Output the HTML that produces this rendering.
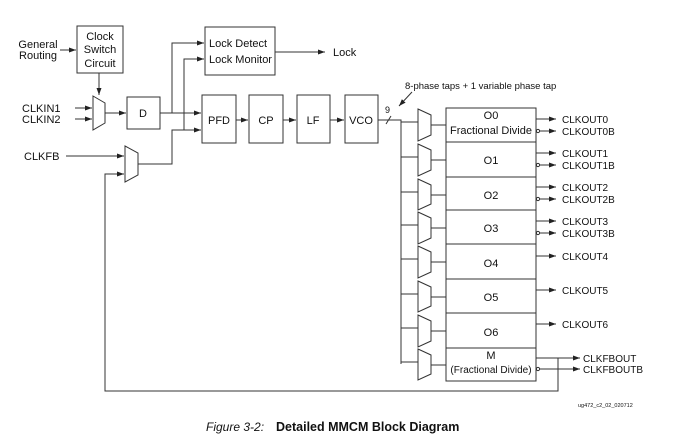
<!DOCTYPE html>
<html><head><meta charset="utf-8"><style>
html,body{margin:0;padding:0;background:#fff;}
svg{display:block;font-family:"Liberation Sans",Arial,sans-serif;}
</style></head><body>
<svg width="673" height="446" viewBox="0 0 673 446" xmlns="http://www.w3.org/2000/svg">
<defs><marker id="a" markerWidth="8" markerHeight="6" refX="7" refY="3" orient="auto" markerUnits="userSpaceOnUse"><path d="M0,0.5 L7,3 L0,5.5z" fill="#222"/></marker></defs>
<g fill="none" stroke="#333" stroke-width="1">
<rect x="77" y="26" width="46" height="47"/>
<rect x="205" y="27" width="70" height="48"/>
<rect x="127" y="97" width="33" height="32"/>
<rect x="202" y="95" width="34" height="48"/>
<rect x="249" y="95" width="34" height="48"/>
<rect x="297" y="95" width="33" height="48"/>
<rect x="345" y="95" width="33" height="48"/>
<rect x="446" y="108" width="90" height="273"/>
<path d="M446,142H536M446,177H536M446,210H536M446,244H536M446,279H536M446,313H536M446,348H536"/>
<polygon points="93,96 105,103 105,123 93,130"/>
<polygon points="125,146 138,153 138,175 125,182"/>
<path d="M60,50H76" marker-end="url(#a)"/>
<path d="M99,73V95" marker-end="url(#a)"/>
<path d="M75,108H92" marker-end="url(#a)"/>
<path d="M75,119H92" marker-end="url(#a)"/>
<path d="M105,113H126" marker-end="url(#a)"/>
<path d="M160,113H201" marker-end="url(#a)"/>
<path d="M172,113V43H204" marker-end="url(#a)"/>
<path d="M138,164H172V130H201" marker-end="url(#a)"/>
<path d="M184,130V59H204" marker-end="url(#a)"/>
<path d="M275,52H325" marker-end="url(#a)"/>
<path d="M66,156H124" marker-end="url(#a)"/>
<path d="M236,120H248" marker-end="url(#a)"/>
<path d="M283,120H296" marker-end="url(#a)"/>
<path d="M330,120H344" marker-end="url(#a)"/>
<path d="M378,120H401V364"/>
<path d="M386,124L391,116"/>
<path d="M412,92L399,106" marker-end="url(#a)"/>
<polygon points="418,109 431,115 431,135 418,141"/>
<polygon points="418,144 431,150 431,170 418,176"/>
<polygon points="418,179 431,185 431,204 418,210"/>
<polygon points="418,212 431,218 431,238 418,244"/>
<polygon points="418,246 431,252 431,272 418,278"/>
<polygon points="418,281 431,287 431,306 418,312"/>
<polygon points="418,315 431,321 431,341 418,347"/>
<polygon points="418,349 431,355 431,374 418,380"/>
<path d="M401,122H418M431,125H446M401,157H418M431,160H446M401,192H418M431,195H446M401,225H418M431,228H446M401,259H418M431,262H446M401,294H418M431,297H446M401,328H418M431,331H446M401,362H418M431,365H446"/>
<path d="M536,119H556" marker-end="url(#a)"/><path d="M540,131H556" marker-end="url(#a)"/>
<path d="M536,153H556" marker-end="url(#a)"/><path d="M540,165H556" marker-end="url(#a)"/>
<path d="M536,187H556" marker-end="url(#a)"/><path d="M540,199H556" marker-end="url(#a)"/>
<path d="M536,221H556" marker-end="url(#a)"/><path d="M540,233H556" marker-end="url(#a)"/>
<path d="M536,256H556" marker-end="url(#a)"/>
<path d="M536,290H556" marker-end="url(#a)"/>
<path d="M536,324H556" marker-end="url(#a)"/>
<path d="M536,358H580" marker-end="url(#a)"/><path d="M540,369H580" marker-end="url(#a)"/>
<path d="M558,358V391H105V174H124" marker-end="url(#a)"/>
<circle cx="538" cy="131" r="1.6"/><circle cx="538" cy="165" r="1.6"/><circle cx="538" cy="199" r="1.6"/><circle cx="538" cy="233" r="1.6"/><circle cx="538" cy="369" r="1.6"/>
</g>
<g fill="#111" font-size="11">
<text x="100" y="40" text-anchor="middle">Clock</text>
<text x="100" y="53" text-anchor="middle">Switch</text>
<text x="100" y="67" text-anchor="middle">Circuit</text>
<text x="38" y="48" text-anchor="middle">General</text>
<text x="38" y="59" text-anchor="middle">Routing</text>
<text x="209" y="47">Lock Detect</text>
<text x="209" y="63">Lock Monitor</text>
<text x="333" y="56">Lock</text>
<text x="22" y="112">CLKIN1</text>
<text x="22" y="123">CLKIN2</text>
<text x="24" y="160">CLKFB</text>
<text x="143" y="117" text-anchor="middle">D</text>
<text x="219" y="124" text-anchor="middle">PFD</text>
<text x="266" y="124" text-anchor="middle">CP</text>
<text x="313" y="124" text-anchor="middle">LF</text>
<text x="361" y="124" text-anchor="middle">VCO</text>
<text x="385" y="113" font-size="9">9</text>
<text x="405" y="89" font-size="9.5">8-phase taps + 1 variable phase tap</text>
<text x="491" y="119" text-anchor="middle">O0</text>
<text x="491" y="134" text-anchor="middle">Fractional Divide</text>
<text x="491" y="164" text-anchor="middle">O1</text>
<text x="491" y="199" text-anchor="middle">O2</text>
<text x="491" y="232" text-anchor="middle">O3</text>
<text x="491" y="267" text-anchor="middle">O4</text>
<text x="491" y="301" text-anchor="middle">O5</text>
<text x="491" y="336" text-anchor="middle">O6</text>
<text x="491" y="359" text-anchor="middle">M</text>
<text x="491" y="373" text-anchor="middle" font-size="10">(Fractional Divide)</text>
<g font-size="10">
<text x="562" y="123">CLKOUT0</text><text x="562" y="135">CLKOUT0B</text>
<text x="562" y="157">CLKOUT1</text><text x="562" y="169">CLKOUT1B</text>
<text x="562" y="191">CLKOUT2</text><text x="562" y="203">CLKOUT2B</text>
<text x="562" y="225">CLKOUT3</text><text x="562" y="237">CLKOUT3B</text>
<text x="562" y="260">CLKOUT4</text>
<text x="562" y="294">CLKOUT5</text>
<text x="562" y="328">CLKOUT6</text>
<text x="583" y="362">CLKFBOUT</text><text x="583" y="373">CLKFBOUTB</text>
</g>
<text x="578" y="407" font-size="5.5">ug472_c2_02_020712</text>
<text x="206" y="431" font-size="12" font-style="italic">Figure 3-2:</text>
<text x="276" y="431" font-size="12.5" font-weight="bold">Detailed MMCM Block Diagram</text>
</g>
</svg>
</body></html>
